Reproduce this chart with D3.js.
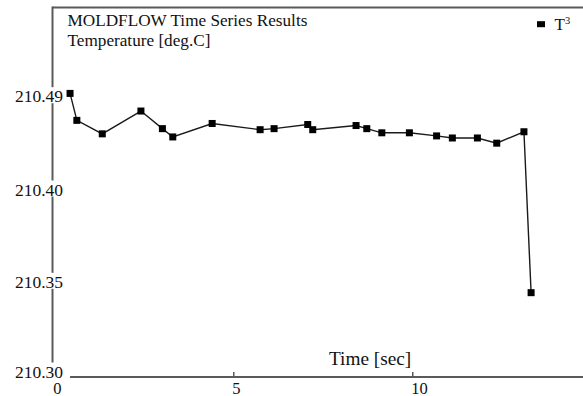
<!DOCTYPE html>
<html>
<head>
<meta charset="utf-8">
<script src="https://cdn.jsdelivr.net/npm/d3@7/dist/d3.min.js"></script>
<style>
  html, body { margin: 0; padding: 0; background: #fff; }
  svg { display: block; }
  text { font-family: "Liberation Serif", "Times New Roman", serif; fill: #111; }
</style>
</head>
<body>
<svg id="chart" width="583" height="396"></svg>
<script>
// ---- data ----
const titleLines = ["MOLDFLOW Time Series Results", "Temperature [deg.C]"];
const xLabel = "Time [sec]";
const seriesName = "T";
const seriesSup = "3";
const times = [0.44, 0.63, 1.34, 2.42, 3.02, 3.31, 4.41, 5.75, 6.14, 7.08, 7.22,
               8.43, 8.73, 9.15, 9.92, 10.68, 11.12, 11.82, 12.36, 13.12, 13.32];
const temps = [210.498, 210.472, 210.459, 210.481, 210.464, 210.456, 210.469, 210.463,
               210.464, 210.468, 210.463, 210.467, 210.464, 210.460, 210.460, 210.457,
               210.455, 210.455, 210.450, 210.461, 210.347];
const xTicks = [0, 5, 10];
const yTicks = [210.30, 210.35, 210.40, 210.49];

// ---- layout ----
const W = 583, H = 396;
const plotLeft = 52.5, plotTop = 7.5, plotBottom = 377;
const axisColor = "#5a5a5a";
const serif = "'Liberation Serif', 'Times New Roman', serif";

const svg = d3.select("#chart");

const x = d3.scaleLinear().domain([0, 14.77]).range([54.3, 583]);
// the axis labels are not evenly spaced in value, so use a piecewise scale
const y = d3.scaleLinear().domain(yTicks).range([377, 287.3, 195, 101.7]);

// frame: top line and left axis line
svg.append("line").attr("x1", plotLeft).attr("x2", W).attr("y1", plotTop).attr("y2", plotTop)
  .attr("stroke", axisColor).attr("stroke-width", 2);
svg.append("line").attr("x1", plotLeft).attr("x2", plotLeft).attr("y1", plotTop - 1).attr("y2", plotBottom)
  .attr("stroke", axisColor).attr("stroke-width", 2);

// x axis
const xAxis = d3.axisBottom(x).tickValues(xTicks).tickSize(-5).tickFormat(d3.format("d"));
const gx = svg.append("g").attr("transform", `translate(0,${plotBottom})`).call(xAxis)
  .attr("font-family", serif).attr("font-size", 16.5);
gx.select(".domain").remove();
gx.selectAll(".tick line").attr("stroke", axisColor).attr("stroke-width", 1.5);
gx.selectAll(".tick text")
  .attr("text-anchor", "start").attr("x", -1.5).attr("y", 16.5).attr("dy", 0)
  .style("font-family", serif).style("font-size", "16.5px").attr("fill", "#111");
svg.append("line").attr("x1", x(times[0])).attr("x2", W).attr("y1", plotBottom).attr("y2", plotBottom)
  .attr("stroke", axisColor).attr("stroke-width", 2);

// x label
svg.append("text").attr("x", 329).attr("y", 365).style("font-size", "19.3px").text(xLabel);

// title
svg.selectAll("text.title").data(titleLines).join("text").attr("class", "title")
  .attr("x", 67.5).attr("y", (d, i) => 26 + i * 20.3)
  .style("font-size", "17.2px").text(d => d);

// data line
const line = d3.line().x((d, i) => x(times[i])).y(d => y(d));
svg.append("path").datum(temps).attr("d", line)
  .attr("fill", "none").attr("stroke", "#1a1a1a").attr("stroke-width", 1.4);

// markers
const ms = 7;
svg.selectAll("rect.pt").data(temps).join("rect").attr("class", "pt")
  .attr("x", (d, i) => x(times[i]) - ms / 2).attr("y", d => y(d) - ms / 2)
  .attr("width", ms).attr("height", ms).attr("fill", "#000");

// y axis labels (drawn over the axis line with a white background)
const yAxis = d3.axisLeft(y).tickValues(yTicks).tickSize(0).tickFormat(d3.format(".2f"));
const gy = svg.append("g").attr("transform", `translate(${plotLeft},0)`).call(yAxis)
  .attr("font-family", serif).attr("font-size", 17.5);
gy.select(".domain").remove();
gy.selectAll(".tick text")
  .attr("text-anchor", "end").attr("x", 10.5).attr("dy", 0).attr("y", 0)
  .style("font-family", serif).style("font-size", "17.5px").attr("fill", "#111");
gy.selectAll(".tick").each(function() {
  const t = d3.select(this).select("text");
  const bb = t.node().getBBox();
  d3.select(this).insert("rect", "text")
    .attr("x", bb.x - 1).attr("width", bb.width + 2)
    .attr("y", -15).attr("height", 16).attr("fill", "#fff");
});

// legend
svg.append("rect").attr("x", 537).attr("y", 21.2).attr("width", 8).attr("height", 6).attr("fill", "#000");
const lt = svg.append("text").attr("x", 554.5).attr("y", 30).style("font-size", "17px");
lt.append("tspan").text(seriesName);
lt.append("tspan").attr("dy", -6.5).style("font-size", "10.5px").text(seriesSup);
</script>
</body>
</html>
